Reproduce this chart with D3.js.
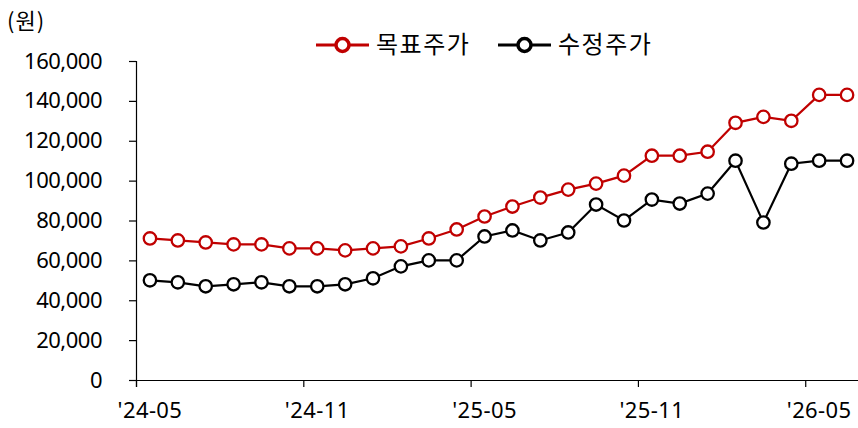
<!DOCTYPE html>
<html>
<head>
<meta charset="utf-8">
<script src="https://cdn.jsdelivr.net/npm/d3@7"></script>
<style>
  body { margin: 0; background: #fff; }
  svg text { font-family: "Noto Sans CJK KR", "Noto Sans", sans-serif; fill: #000; }
  svg .num { font-family: "Noto Sans", sans-serif; }
</style>
</head>
<body>
<svg id="chart-area" width="858" height="428"></svg>
<script>
// months on the x axis, 2024-05 .. 2026-06
var months = ['24-05','24-06','24-07','24-08','24-09','24-10','24-11','24-12',
              '25-01','25-02','25-03','25-04','25-05','25-06','25-07','25-08',
              '25-09','25-10','25-11','25-12','26-01','26-02','26-03','26-04',
              '26-05','26-06'];
var xLabels = ["'24-05","'24-11","'25-05","'25-11","'26-05"];
var yTicks = [0,20000,40000,60000,80000,100000,120000,140000,160000];

var targetPrice = [71000,70000,69000,68000,68000,66000,66000,65000,66000,67000,
                   71000,75500,82000,87000,91500,95500,98500,102500,112500,112500,
                   114500,129000,132000,130000,143000,143000];
var adjPrice = [50000,49000,47000,48000,49000,47000,47000,48000,51000,57000,
                60000,60000,72000,75000,70000,74000,88000,80000,90500,88500,
                93500,110000,79000,108500,110000,110000];

var seriesNames = ['목표주가','수정주가'];
var seriesColors = ['#c00000','#000000'];

var margin = {left:136, right:-3, top:61, bottom:48};
var svgWidth = 858, svgHeight = 428;
var width = svgWidth - margin.left - margin.right;
var height = svgHeight - margin.top - margin.bottom;

var svg = d3.select('#chart-area');
var g = svg.append('g')
           .attr('transform','translate(' + margin.left + ',' + margin.top + ')');

var x = d3.scaleBand().domain(months).range([0,width]).padding(0);
var y = d3.scaleLinear().domain([0,160000]).range([height,0]);

// y axis
var yAxis = d3.axisLeft(y)
              .tickValues(yTicks)
              .tickSize(7)
              .tickPadding(27)
              .tickFormat(d3.format(','));
var ya = g.append('g').attr('class','y axis').call(yAxis);
ya.select('.domain').attr('stroke','#000').attr('stroke-width',1.2);
ya.selectAll('line').attr('stroke','#000').attr('stroke-width',1.2);
ya.selectAll('text').attr('class','num').style('font-size','22px').style('letter-spacing','-0.5px');

// x axis: tick marks on category boundaries every 6 months, labels in the middle
var xb = d3.scaleLinear().domain([0,months.length]).range([0,width]);
var xa = g.append('g').attr('class','x axis')
          .attr('transform','translate(0,' + height + ')')
          .call(d3.axisBottom(xb).tickValues([0,6,12,18,24]).tickSize(7).tickFormat(''));
xa.select('.domain').attr('stroke','#000').attr('stroke-width',1.2);
xa.selectAll('line').attr('stroke','#000').attr('stroke-width',1.2);

g.append('g')
 .attr('transform','translate(0,' + height + ')')
 .selectAll('text')
 .data(xLabels)
 .enter()
 .append('text')
 .attr('class','num')
 .attr('x',(d,i)=>x(months[i*6]) + x.bandwidth()/2)
 .attr('y',38)
 .attr('text-anchor','middle')
 .style('font-size','22px')
 .style('letter-spacing','0.4px')
 .text(d=>d);

// lines + markers
var line = d3.line()
             .x((d,i)=>x(months[i]) + x.bandwidth()/2)
             .y(d=>y(d));

[targetPrice, adjPrice].forEach((data,k)=>{
    g.append('path')
     .datum(data)
     .attr('fill','none')
     .attr('stroke',seriesColors[k])
     .attr('stroke-width',2.2)
     .attr('d',line);

    g.selectAll('.pt' + k)
     .data(data)
     .enter()
     .append('circle')
     .attr('class','pt' + k)
     .attr('cx',(d,i)=>x(months[i]) + x.bandwidth()/2)
     .attr('cy',d=>y(d))
     .attr('r',6.2)
     .attr('fill','#fff')
     .attr('stroke',seriesColors[k])
     .attr('stroke-width',2.3);
});

// unit label
svg.append('text')
   .attr('x',7)
   .attr('y',29)
   .style('font-size','22px')
   .style('letter-spacing','1px')
   .text('(원)');

// legend
var legendX = [316, 498];
seriesNames.forEach((name,k)=>{
    var lg = svg.append('g').attr('transform','translate(' + legendX[k] + ',45)');
    lg.append('line')
      .attr('x1',0).attr('x2',53)
      .attr('stroke',seriesColors[k])
      .attr('stroke-width',3);
    lg.append('circle')
      .attr('cx',26.5).attr('r',6.5)
      .attr('fill','#fff')
      .attr('stroke',seriesColors[k])
      .attr('stroke-width',3.5);
    lg.append('text')
      .attr('x',60)
      .attr('y',8)
      .style('font-size','24px')
      .style('letter-spacing','1.5px')
      .text(name);
});
</script>
</body>
</html>
